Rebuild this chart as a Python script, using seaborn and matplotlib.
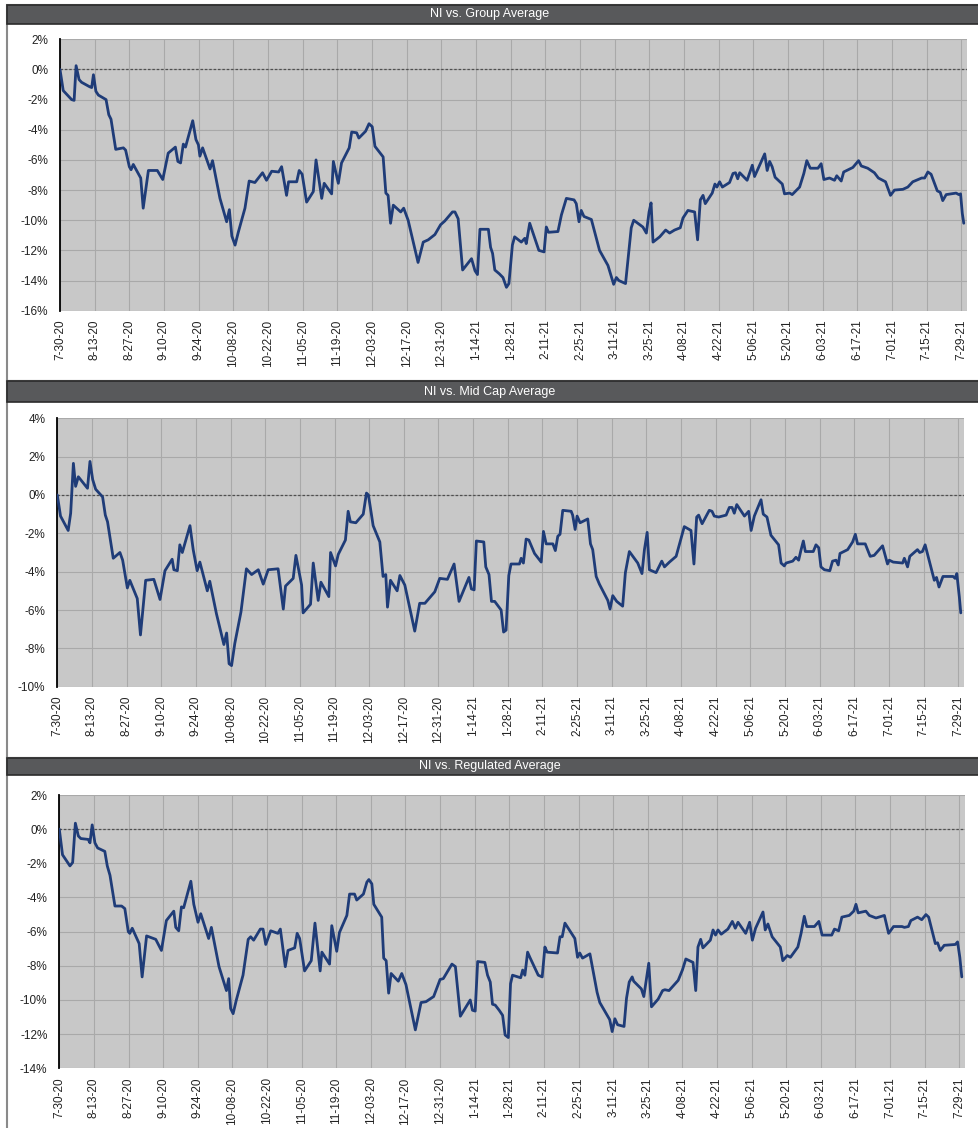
import matplotlib.pyplot as plt
import matplotlib.patches as mpatches
from matplotlib.ticker import FuncFormatter
import pandas as pd
import seaborn as sns

START = pd.Timestamp("2020-07-30")

# NI relative performance (%) vs. peer averages
# x values are days after 7-30-20
group_days = [
    0, 1.3, 4.7, 5.7, 6.5, 7.7, 8.7, 12.0, 12.8, 13.5, 14.5, 15.5, 18.6, 19.7, 20.6,
    22.5, 25.6, 26.5, 28.0, 28.7, 29.6, 32.6, 33.6, 35.7, 39.3, 41.5, 43.7, 46.6, 47.6,
    48.7, 49.8, 50.7, 51.1, 53.6, 54.9, 55.9, 56.5, 57.6, 60.6, 61.6, 64.6, 67.3, 68.4,
    69.4, 70.7, 72.0, 74.7, 76.4, 78.7, 81.8, 83.4, 85.5, 88.3, 89.5, 91.5, 92.3, 95.6,
    96.6, 97.8, 99.6, 102.3, 103.4, 105.7, 106.7, 109.7, 110.4, 112.4, 113.7, 116.8,
    117.8, 119.8, 120.7, 123.4, 124.8, 126.1, 127.2, 130.5, 131.6, 132.5, 133.5, 134.6,
    137.6, 138.8, 140.6, 144.6, 146.7, 148.7, 151.4, 153.7, 155.4, 158.5, 159.5, 160.8,
    162.6, 166.2, 167.6, 168.6, 169.6, 173.0, 173.9, 174.7, 175.6, 177.4, 178.9, 180.3,
    181.3, 182.7, 183.6, 186.3, 187.7, 188.3, 189.7, 193.4, 195.5, 196.4, 197.3, 201.1,
    202.5, 204.5, 207.6, 208.5, 209.6, 210.5, 211.6, 214.6, 217.9, 221.3, 223.6, 224.7,
    225.7, 228.4, 230.7, 231.7, 235.4, 236.8, 237.9, 238.7, 239.5, 242.2, 244.6, 246.2,
    248.2, 250.5, 251.6, 253.6, 256.3, 257.5, 258.6, 259.7, 260.6, 263.4, 264.5, 265.3,
    266.4, 267.5, 270.4, 271.8, 272.8, 273.7, 274.5, 277.5, 279.6, 280.5, 284.6, 285.6,
    286.6, 287.6, 288.8, 291.7, 292.6, 294.7, 295.7, 298.7, 300.4, 301.6, 303.0, 306.1,
    307.4, 308.5, 310.8, 312.8, 313.7, 315.5, 316.5, 320.2, 322.5, 323.6, 326.2, 328.9,
    330.5, 333.4, 335.4, 337.0, 340.4, 342.4, 344.4, 348.0, 349.2, 350.5, 351.8, 354.3,
    355.5, 356.5, 357.9, 361.9, 363.0, 363.7, 364.4, 365.0,
]
group_pct = [
    0.0, -1.4, -2.0, -2.05, 0.25, -0.67, -0.85, -1.15, -1.2, -0.35, -1.45, -1.7, -2.0, -3.0, -3.3,
    -5.3, -5.2, -5.35, -6.45, -6.65, -6.3, -7.2, -9.2, -6.7, -6.7, -7.3, -5.55, -5.15, -6.1,
    -6.2, -4.95, -5.15, -4.9, -3.4, -4.65, -5.0, -5.75, -5.2, -6.6, -6.05, -8.55, -10.1, -9.3,
    -11.05, -11.65, -10.8, -9.2, -7.4, -7.5, -6.85, -7.35, -6.75, -6.8, -6.45, -8.35, -7.45, -7.45,
    -6.7, -6.95, -8.8, -8.1, -6.0, -8.55, -7.55, -8.25, -6.1, -7.55, -6.2, -5.2,
    -4.15, -4.2, -4.55, -4.1, -3.6, -3.8, -5.1, -5.8, -8.2, -8.35, -10.2, -9.0,
    -9.45, -9.2, -10.0, -12.8, -11.45, -11.3, -10.95, -10.3, -10.05, -9.45, -9.45, -9.9,
    -13.3, -12.55, -13.35, -13.6, -10.6, -10.6, -11.8, -12.2, -13.3, -13.55, -13.8, -14.45,
    -14.2, -11.65, -11.1, -11.45, -11.2, -11.55, -10.2, -12.0, -12.1, -10.45, -10.8, -10.75,
    -9.65, -8.55, -8.65, -8.9, -10.1, -9.35, -9.75, -9.95, -12.0, -13.0, -14.25, -13.8,
    -14.0, -14.2, -10.5, -10.0, -10.45, -10.85, -9.45, -8.85, -11.45, -11.1, -10.65, -10.85,
    -10.65, -10.5, -9.85, -9.35, -9.45, -11.3, -8.65, -8.35, -8.9, -8.2, -7.6, -7.8,
    -7.45, -7.8, -7.5, -6.9, -6.85, -7.25, -6.85, -7.35, -6.35, -7.1, -5.6, -6.7,
    -6.1, -6.45, -7.15, -7.6, -8.25, -8.2, -8.3, -7.8, -6.9, -6.05, -6.55, -6.55,
    -6.25, -7.3, -7.2, -7.35, -7.05, -7.4, -6.8, -6.5, -6.05, -6.4, -6.55, -6.85,
    -7.2, -7.45, -8.35, -8.0, -7.95, -7.8, -7.45, -7.2, -7.2, -6.8, -6.95, -8.05,
    -8.15, -8.7, -8.3, -8.2, -8.3, -8.25, -9.55, -10.2,
]

midcap_days = [
    0, 1.3, 4.4, 5.4, 6.5, 7.4, 8.5, 12.2, 13.2, 14.3, 15.5, 18.3, 19.4, 20.3, 22.6,
    25.3, 26.4, 28.3, 29.3, 32.3, 33.6, 35.7, 39.0, 41.5, 43.5, 46.4, 47.1, 48.5, 49.5,
    50.5, 53.6, 54.9, 56.5, 57.6, 60.6, 61.6, 64.3, 67.3, 68.4, 69.4, 70.4, 71.7, 74.2,
    76.4, 78.5, 81.2, 83.2, 85.2, 89.2, 91.3, 92.2, 95.3, 96.4, 98.7, 99.3, 102.3, 103.4,
    105.4, 106.5, 109.7, 110.4, 112.4, 113.5, 116.4, 117.5, 118.4, 120.6, 123.6, 124.9,
    125.7, 127.6, 130.3, 131.6, 132.7, 133.4, 134.6, 137.3, 138.4, 140.4, 144.4, 146.4,
    148.5, 150.5, 152.5, 154.5, 157.6, 160.3, 162.3, 166.3, 167.3, 168.4, 169.3, 172.3,
    173.1, 174.4, 175.4, 176.7, 179.3, 180.3, 181.3, 182.4, 183.3, 186.7, 187.4, 188.3,
    189.4, 190.5, 192.8, 195.5, 196.4, 197.5, 200.2, 201.2, 202.2, 203.1, 204.2, 207.6,
    208.2, 209.2, 210.0, 211.2, 214.3, 215.4, 216.3, 217.7, 219.0, 222.4, 223.3, 224.4,
    226.0, 228.4, 229.5, 231.1, 234.5, 236.2, 237.2, 238.3, 239.2, 241.9, 244.2, 245.3,
    247.3, 250.0, 253.3, 256.0, 257.2, 258.3, 259.1, 260.5, 263.4, 264.5, 265.4, 267.2,
    270.2, 271.5, 272.6, 273.5, 274.5, 277.6, 279.3, 280.3, 281.6, 284.3, 285.2, 286.7,
    288.3, 291.4, 292.4, 293.7, 294.4, 297.1, 298.4, 299.5, 300.4, 301.4, 302.2, 305.4,
    306.5, 307.6, 308.5, 309.9, 312.1, 313.2, 314.6, 315.5, 316.2, 319.3, 321.3, 322.4,
    323.3, 326.4, 328.4, 330.0, 333.4, 335.4, 336.1, 337.7, 341.5, 342.2, 343.5, 344.4,
    347.5, 348.4, 349.5, 350.6, 354.3, 355.2, 356.2, 357.8, 361.9, 362.7, 363.4, 364.4,
    365.0,
]
midcap_pct = [
    0.0, -1.1, -1.85, -0.95, 1.65, 0.45, 0.95, 0.35, 1.75, 0.8, 0.3, -0.1, -1.05, -1.4, -3.3,
    -3.0, -3.4, -4.85, -4.45, -5.4, -7.3, -4.45, -4.4, -5.45, -3.95, -3.35, -3.9, -3.95, -2.6,
    -3.0, -1.6, -2.85, -3.95, -3.5, -5.0, -4.5, -6.2, -7.8, -7.2, -8.8, -8.9, -7.75, -6.1,
    -3.85, -4.15, -3.9, -4.65, -3.9, -3.85, -5.95, -4.75, -4.35, -3.15, -4.7, -6.15, -5.7, -3.55,
    -5.5, -4.55, -5.3, -3.0, -3.7, -3.1, -2.35, -0.85, -1.4, -1.45, -1.0, 0.1,
    0.0, -1.6, -2.45, -4.25, -4.15, -5.85, -4.45, -5.0, -4.2, -4.7, -7.1, -5.65,
    -5.65, -5.35, -5.05, -4.35, -4.4, -3.6, -5.55, -4.3, -4.9, -4.95, -2.4, -2.45,
    -3.75, -4.15, -5.55, -5.55, -6.0, -7.15, -7.05, -4.2, -3.6, -3.6, -3.3, -3.55,
    -2.3, -2.35, -3.05, -3.5, -1.9, -2.55, -2.55, -2.9, -2.15, -2.05, -0.8, -0.85,
    -1.05, -1.8, -1.1, -1.45, -1.25, -2.55, -2.85, -4.25, -4.65, -5.5, -5.95, -5.25,
    -5.55, -5.8, -4.05, -2.95, -3.55, -4.1, -2.85, -1.95, -3.9, -4.05, -3.45, -3.75,
    -3.5, -3.2, -1.65, -1.85, -3.6, -1.15, -1.05, -1.5, -0.8, -0.85, -1.1, -1.15,
    -1.05, -0.65, -0.65, -0.95, -0.5, -1.1, -0.85, -1.85, -1.1, -0.25, -1.0, -1.15,
    -2.1, -2.6, -3.55, -3.7, -3.55, -3.45, -3.25, -3.4, -2.9, -2.4, -2.95, -2.95,
    -2.6, -2.75, -3.75, -3.9, -3.95, -3.45, -3.4, -3.65, -3.05, -2.85, -2.45, -2.05,
    -2.55, -2.55, -3.2, -3.15, -2.65, -3.6, -3.4, -3.5, -3.55, -3.3, -3.75, -3.2,
    -2.85, -3.0, -2.95, -2.6, -4.45, -4.3, -4.8, -4.25, -4.25, -4.35, -4.1, -5.3,
    -6.15,
]

regulated_days = [
    0, 1.3, 4.3, 5.4, 6.5, 7.7, 8.7, 11.7, 12.4, 13.3, 14.4, 15.5, 18.4, 19.4, 20.5,
    22.5, 25.2, 26.5, 27.9, 28.5, 29.5, 32.3, 33.5, 35.3, 39.0, 41.3, 43.3, 46.3, 47.1,
    48.3, 49.4, 50.3, 53.2, 54.4, 56.1, 57.2, 60.4, 61.5, 64.6, 67.6, 68.5, 69.3, 70.3,
    71.6, 74.3, 76.4, 77.4, 78.6, 81.3, 82.4, 83.5, 85.5, 88.4, 89.4, 91.4, 92.5, 95.2,
    96.2, 97.2, 99.2, 101.9, 103.4, 105.5, 106.2, 109.3, 110.2, 112.2, 113.3, 116.3,
    117.4, 119.4, 120.3, 123.0, 124.4, 125.2, 126.4, 127.2, 130.4, 131.2, 132.2, 133.2,
    134.2, 137.1, 138.5, 140.2, 144.0, 146.3, 148.3, 151.4, 154.0, 155.3, 158.8, 160.2,
    162.2, 166.2, 167.1, 168.2, 169.2, 172.1, 173.2, 174.3, 175.2, 176.3, 177.9, 179.3,
    180.3, 181.6, 182.5, 183.3, 186.6, 187.4, 188.3, 189.4, 190.3, 193.7, 195.3, 196.4,
    197.3, 201.5, 202.5, 203.4, 204.5, 207.2, 208.5, 209.6, 210.5, 211.6, 214.6, 217.5,
    218.6, 222.0, 222.6, 223.6, 224.7, 225.8, 228.4, 229.4, 230.5, 231.7, 232.3, 235.4,
    236.4, 238.4, 239.5, 242.2, 244.0, 244.9, 246.6, 250.3, 252.0, 253.4, 256.3, 257.4,
    258.3, 259.4, 260.3, 263.3, 264.4, 265.4, 266.4, 267.7, 270.4, 272.2, 273.4, 274.5,
    277.6, 279.2, 280.3, 281.6, 284.6, 285.5, 286.6, 288.3, 291.6, 292.6, 294.4, 295.7,
    298.7, 300.0, 301.3, 302.3, 305.4, 307.2, 308.5, 310.1, 312.4, 313.5, 315.2, 316.5,
    319.5, 321.3, 322.2, 323.1, 326.2, 327.6, 330.3, 333.7, 335.4, 337.4, 340.8, 341.8,
    343.4, 344.4, 347.1, 348.8, 350.5, 351.6, 354.3, 355.2, 356.3, 357.9, 362.4, 363.3,
    364.2, 365.0,
]
regulated_pct = [
    0.0, -1.5, -2.15, -1.95, 0.35, -0.4, -0.55, -0.6, -0.8, 0.25, -0.8, -1.1, -1.3, -2.15, -2.7,
    -4.5, -4.5, -4.65, -6.0, -6.1, -5.8, -6.7, -8.65, -6.25, -6.45, -7.1, -5.35, -4.8, -5.75,
    -5.95, -4.55, -4.6, -3.05, -4.4, -5.45, -4.95, -6.4, -5.75, -8.05, -9.45, -8.75, -10.5, -10.8,
    -10.0, -8.55, -6.45, -6.3, -6.5, -5.85, -5.85, -6.75, -5.95, -6.1, -5.85, -8.05, -7.1, -6.95,
    -6.1, -6.4, -8.3, -7.7, -5.5, -8.3, -7.2, -7.9, -5.65, -7.15, -6.05, -5.05,
    -3.8, -3.8, -4.15, -3.8, -3.1, -2.95, -3.2, -4.4, -5.15, -7.55, -7.7, -9.6,
    -8.45, -8.9, -8.45, -9.1, -11.75, -10.15, -10.1, -9.8, -8.8, -8.75, -7.9, -8.05,
    -10.95, -10.0, -10.6, -10.65, -7.75, -7.8, -8.55, -8.95, -10.25, -10.3, -10.6, -10.9,
    -12.05, -12.2, -9.05, -8.55, -8.7, -8.25, -8.55, -7.2, -7.5, -8.55, -8.65, -6.9,
    -7.2, -7.25, -6.3, -6.3, -5.5, -6.1, -6.4, -7.5, -7.25, -7.55, -7.3, -9.55,
    -10.15, -11.0, -11.15, -11.85, -11.1, -11.45, -11.55, -9.9, -8.95, -8.65, -8.9, -9.35,
    -9.8, -7.85, -10.4, -9.95, -9.45, -9.4, -9.45, -8.85, -8.25, -7.6, -7.8, -9.45,
    -6.9, -6.45, -6.95, -6.5, -5.9, -6.2, -5.9, -6.15, -5.85, -5.4, -5.8, -5.45,
    -6.1, -5.45, -6.5, -5.8, -4.85, -5.9, -5.55, -6.3, -6.9, -7.7, -7.4, -7.5,
    -6.9, -6.1, -5.1, -5.7, -5.7, -5.4, -6.2, -6.2, -6.2, -5.85, -5.95, -5.15,
    -5.05, -4.8, -4.4, -4.9, -4.8, -5.05, -5.2, -5.05, -6.1, -5.7, -5.7, -5.75,
    -5.7, -5.35, -5.15, -5.3, -5.0, -5.15, -6.7, -6.65, -7.1, -6.8, -6.75, -6.6,
    -7.5, -8.65,
]

titles = ["NI vs. Group Average", "NI vs. Mid Cap Average", "NI vs. Regulated Average"]
series = [(group_days, group_pct), (midcap_days, midcap_pct), (regulated_days, regulated_pct)]
y_limits = [(-16, 2), (-10, 4), (-14, 2)]

tick_dates = pd.date_range(START, "2021-07-29", freq="14D")
tick_labels = [f"{d.month}-{d:%d-%y}" for d in tick_dates]

# layout in pixels: (bar top, bar bottom, next panel top), axes (left, top, right, bottom)
W, H = 979, 1128
bars = [(5, 24, 381), (381, 402, 758), (758, 775, 1130)]
boxes = [(60, 39.3, 967, 310.7), (57.3, 418.3, 964, 686.7), (59.3, 795, 965, 1068.3)]

sns.set_style("white")
plt.rcParams["font.family"] = ["Liberation Sans", "DejaVu Sans"]
plt.rcParams["axes.unicode_minus"] = False

fig = plt.figure(figsize=(W / 100, H / 100), dpi=100)
fig.patch.set_facecolor("white")

for title, (days, pct), ylim, bar, box in zip(titles, series, y_limits, bars, boxes):
    top, bar_bottom, panel_bottom = bar

    # panel frame and dark title strip
    fig.patches.append(mpatches.Rectangle(
        (7 / W, 1 - panel_bottom / H), 1.0, (panel_bottom - top) / H,
        transform=fig.transFigure, facecolor="white", edgecolor="#8a8a8a",
        linewidth=1.5, zorder=-2))
    fig.patches.append(mpatches.Rectangle(
        (7 / W, 1 - bar_bottom / H), 1.0, (bar_bottom - top) / H,
        transform=fig.transFigure, facecolor="#58595b", edgecolor="#2b2b2b",
        linewidth=1.2, zorder=1))
    fig.text(490 / W, 1 - (top + bar_bottom) / 2 / H, title, color="white",
             fontsize=9, ha="center", va="center", zorder=2)

    left, a_top, right, a_bottom = box
    ax = fig.add_axes([left / W, 1 - a_bottom / H, (right - left) / W, (a_bottom - a_top) / H])
    ax.set_facecolor("#c8c8c8")

    df = pd.DataFrame({"date": START + pd.to_timedelta(days, unit="D"), "pct": pct})
    sns.lineplot(data=df, x="date", y="pct", ax=ax, color="#1f3c78",
                 linewidth=2.0, estimator=None, zorder=3)

    ax.axhline(0, color="#4f4f4f", linestyle=(0, (2, 1.5)), linewidth=0.9, zorder=2)

    ax.set_xlim(START, START + pd.Timedelta(days=366.3))
    ax.set_ylim(*ylim)
    ax.set_yticks(range(ylim[0], ylim[1] + 1, 2))
    ax.yaxis.set_major_formatter(FuncFormatter(lambda v, _: f"{v:.0f}%"))
    ax.set_xticks(tick_dates)
    ax.set_xticklabels(tick_labels, rotation=90)

    ax.grid(True, color="#a9a9a9", linewidth=0.8, linestyle="-")
    ax.set_axisbelow(True)
    ax.tick_params(axis="both", length=0, labelsize=8.5, labelcolor="#222222")
    ax.tick_params(axis="y", pad=8.5)
    ax.tick_params(axis="x", pad=6.5)
    ax.set_xlabel("")
    ax.set_ylabel("")

    for side in ["top", "right", "bottom"]:
        ax.spines[side].set_visible(False)
    ax.spines["left"].set_color("black")
    ax.spines["left"].set_linewidth(1.3)

plt.savefig("out.png", dpi=100)
